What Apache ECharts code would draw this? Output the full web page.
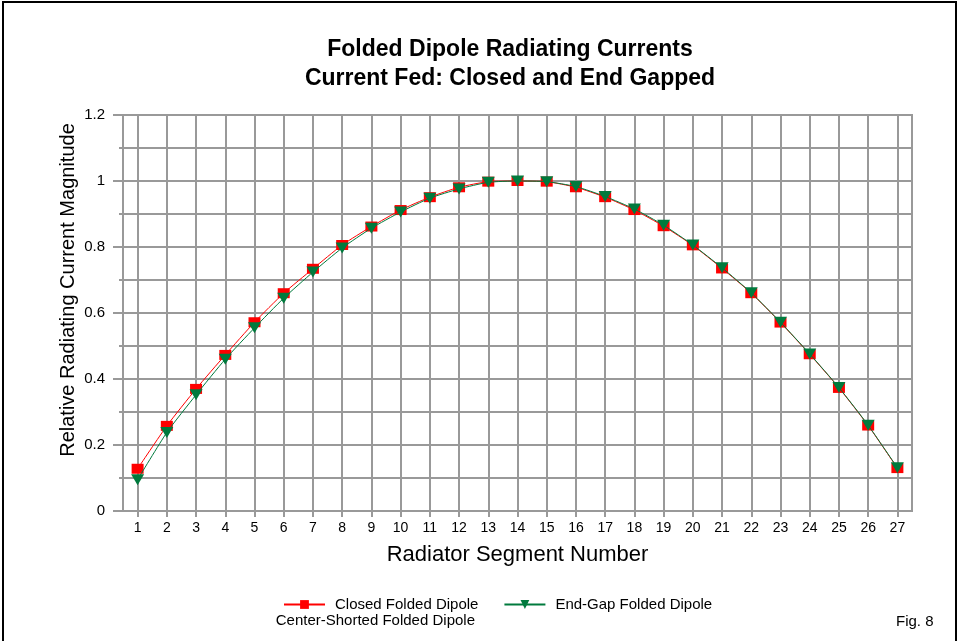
<!DOCTYPE html>
<html><head><meta charset="utf-8">
<script src="https://cdn.jsdelivr.net/npm/echarts@6/dist/echarts.min.js"></script>
<style>html,body{margin:0;padding:0;background:#fff}#c{width:959px;height:641px}</style>
</head><body><div id="c"></div>
<script>
const segments = [1,2,3,4,5,6,7,8,9,10,11,12,13,14,15,16,17,18,19,20,21,22,23,24,25,26,27];
const closedValues = [0.128,0.258,0.370,0.473,0.572,0.660,0.734,0.806,0.862,0.912,0.951,0.981,0.998,1.000,0.998,0.981,0.951,0.912,0.863,0.805,0.735,0.660,0.571,0.475,0.373,0.259,0.130];
const endGapValues = [0.095,0.238,0.352,0.460,0.555,0.645,0.724,0.797,0.857,0.906,0.948,0.976,0.996,1.000,0.998,0.983,0.953,0.915,0.866,0.806,0.737,0.661,0.572,0.476,0.374,0.260,0.131];
const titleLines = ['Folded Dipole Radiating Currents', 'Current Fed: Closed and End Gapped'];
const seriesNames = ['Closed Folded Dipole', 'End-Gap Folded Dipole'];
const legendSubtitle = 'Center-Shorted Folded Dipole';
const figLabel = 'Fig. 8';

const FONT = '"Liberation Sans", Arial, sans-serif';
const GRID = '#999999';
const chart = echarts.init(document.getElementById('c'), null, {renderer: 'canvas'});
const pairs = (vals) => segments.map((s, i) => [s, vals[i]]);

chart.setOption({
  backgroundColor: '#fff',
  animation: false,
  title: {
    text: titleLines.join('\n'),
    left: 505, top: 30, textAlign: 'center',
    textStyle: {fontFamily: FONT, fontSize: 23, fontWeight: 'bold', color: '#000', lineHeight: 29}
  },
  grid: {left: 123, right: 47, top: 115, bottom: 130, show: true, borderColor: GRID, borderWidth: 2, backgroundColor: 'transparent'},
  xAxis: {
    type: 'value', min: 0.5, max: 27.5,
    name: 'Radiator Segment Number', nameLocation: 'middle', nameGap: 33,
    nameTextStyle: {fontFamily: FONT, fontSize: 22, color: '#000'},
    axisLine: {show: true, onZero: false, lineStyle: {color: GRID, width: 2}},
    axisTick: {show: true, customValues: segments, length: 6, lineStyle: {color: GRID, width: 2}},
    axisLabel: {customValues: segments, fontFamily: FONT, fontSize: 14, color: '#000', margin: 10},
    splitLine: {show: true, customValues: segments, lineStyle: {color: GRID, width: 2}}
  },
  yAxis: {
    type: 'value', min: 0, max: 1.2, interval: 0.2,
    name: 'Relative Radiating Current Magnitude', nameLocation: 'middle', nameGap: 45, nameMoveOverlap: false,
    nameTextStyle: {fontFamily: FONT, fontSize: 20, color: '#000', padding: [0, 0, 0, 46]},
    axisLine: {show: true, lineStyle: {color: GRID, width: 2}},
    axisTick: {show: true, length: 10, lineStyle: {color: GRID, width: 2}},
    minorTick: {show: true, splitNumber: 2, length: 4, lineStyle: {color: GRID, width: 2}},
    minorSplitLine: {show: true, lineStyle: {color: GRID, width: 2}},
    axisLabel: {fontFamily: FONT, fontSize: 15, color: '#000', margin: 18},
    splitLine: {show: true, lineStyle: {color: GRID, width: 2}}
  },
  legend: {
    left: 278, top: 592, itemWidth: 41, itemHeight: 11, itemGap: 25,
    textStyle: {fontFamily: FONT, fontSize: 15, color: '#000', padding: [0, 0, 0, 5]},
    data: seriesNames
  },
  graphic: [
    {type: 'rect', shape: {x: 3, y: 2, width: 953, height: 700}, style: {fill: 'none', stroke: '#000', lineWidth: 2}, silent: true},
    {type: 'text', x: 475, y: 621, style: {text: legendSubtitle, fontFamily: FONT, fontSize: 15, fill: '#000', align: 'right', verticalAlign: 'middle'}},
    {type: 'text', x: 896, y: 622, style: {text: figLabel, fontFamily: FONT, fontSize: 15, fill: '#000', align: 'left', verticalAlign: 'middle'}}
  ],
  series: [
    {
      name: seriesNames[0], type: 'line', data: pairs(closedValues), smooth: 0.2,
      symbol: 'rect', symbolSize: [12, 10], showAllSymbol: true,
      lineStyle: {color: '#ff0000', width: 1}, itemStyle: {color: '#ff0000'}, z: 2
    },
    {
      name: seriesNames[1], type: 'line', data: pairs(endGapValues), smooth: 0.2,
      symbol: 'triangle', symbolRotate: 180, symbolSize: [13, 11], showAllSymbol: true,
      lineStyle: {color: '#007a3d', width: 1}, itemStyle: {color: '#007a3d'}, z: 3
    }
  ]
});
</script></body></html>
